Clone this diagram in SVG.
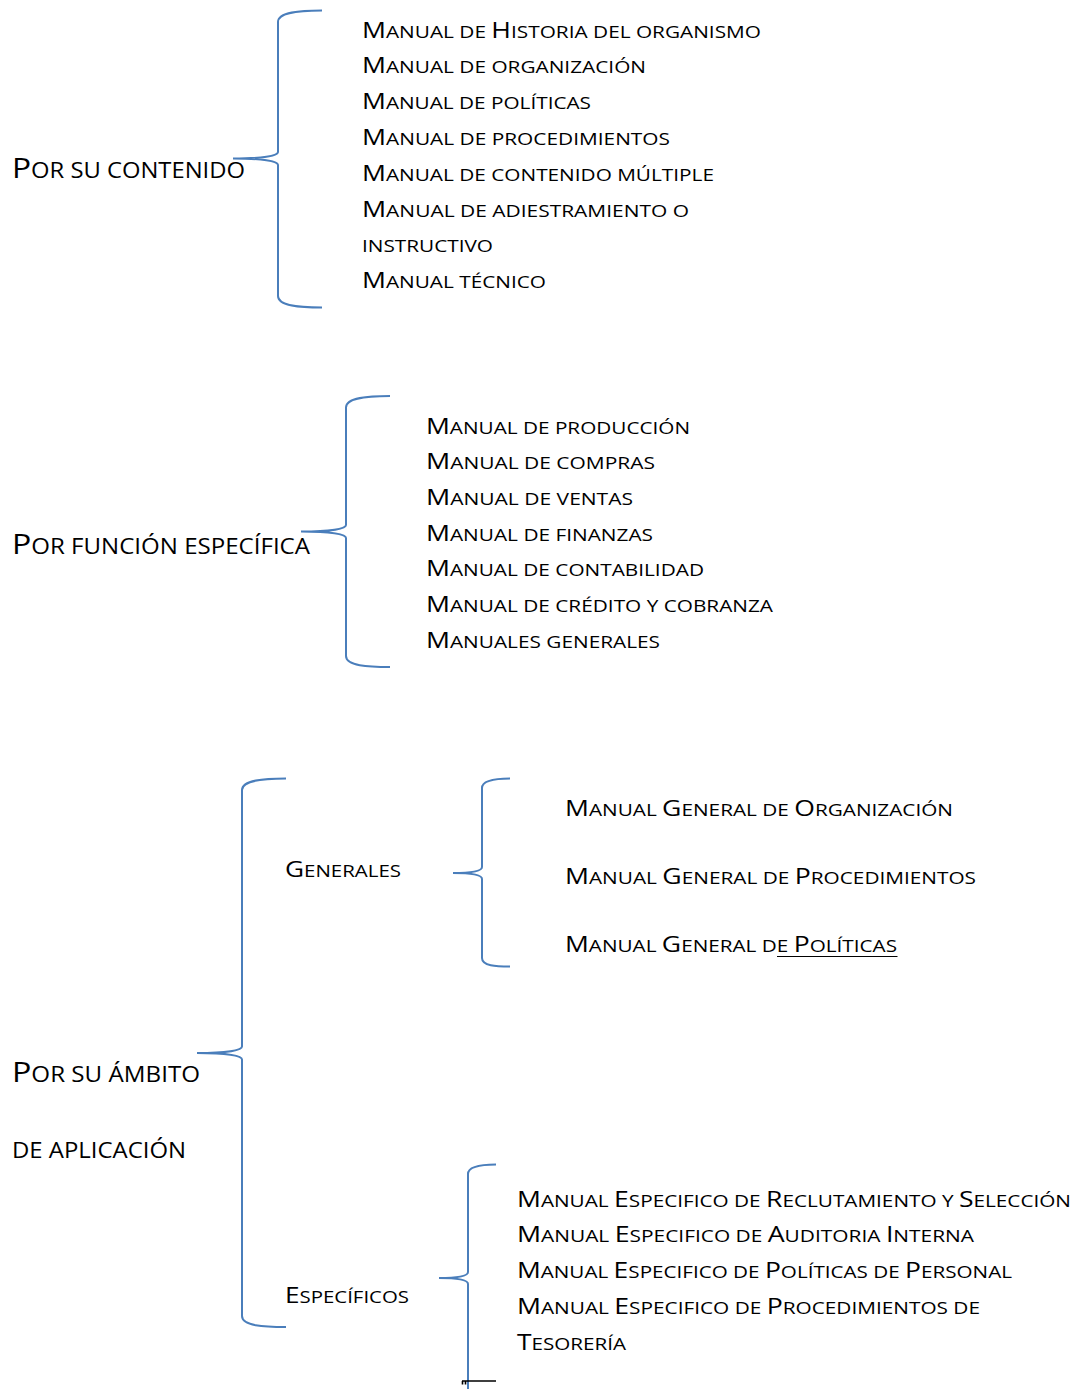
<svg xmlns="http://www.w3.org/2000/svg" width="1075" height="1389" viewBox="0 0 1075 1389">
  <style>
    text { font-family: "Open Sans", "Liberation Sans", sans-serif; fill: #000; }
    .t { font-size: 16.4px; }
    .t .k { font-size: 21px; }
    .lbl { font-size: 21px; }
    .lbl .k { font-size: 28px; }
    .brace { fill: none; stroke: #4a7ebb; stroke-width: 2; stroke-linecap: butt; }
    .mark { fill: none; stroke: #000; stroke-width: 1.6; }
    .ul { stroke: #000; stroke-width: 1.2; }
  </style>
  <rect width="1075" height="1389" fill="#fff"/>

  <!-- curly braces joining each heading to its list -->
  <g id="connectors">
    <path id="brace-contenido" class="brace" d="M322,10.5 C300,10.5 278,12 278,22 L278,152 C278,156 262,158.5 233,158.5 C262,158.5 278,161 278,165 L278,296 C278,306 300,307.5 322,307.5"/>
    <path id="brace-funcion" class="brace" d="M390,396 C368,396 346,397.5 346,407.5 L346,525 C346,529 330,531.5 301,531.5 C330,531.5 346,534 346,538 L346,656 C346,666 368,667 390,667"/>
    <path id="brace-ambito" class="brace" d="M286,778.5 C264,778.5 242,780 242,790 L242,1046.5 C242,1050.5 226,1053 197,1053 C226,1053 242,1055.5 242,1059.5 L242,1316 C242,1326 264,1327 286,1327"/>
    <path id="brace-generales" class="brace" d="M510,778.5 C496,778.5 482,780 482,788 L482,867 C482,871 472,873 453,873 C472,873 482,875 482,879 L482,958 C482,966 496,966.5 510,966.5"/>
    <path id="brace-especificos" class="brace" d="M496,1164.5 C482,1164.5 468,1166 468,1174 L468,1272 C468,1276 458,1278 439,1278 C458,1278 468,1280 468,1284 L468,1395"/>
    <path id="end-mark" class="mark" d="M462,1381 H496 M462.5,1381 V1384.5 M465.5,1381 V1384.5"/>
  </g>

  <!-- por su contenido -->
  <g id="node-contenido">
    <text class="lbl" x="12" y="177.5" textLength="233" lengthAdjust="spacingAndGlyphs"><tspan class="k">P</tspan>OR SU CONTENIDO</text>
  </g>
  <g id="list-contenido">
    <text class="t" x="362" y="37.5" textLength="399" lengthAdjust="spacingAndGlyphs"><tspan class="k">M</tspan>ANUAL DE <tspan class="k">H</tspan>ISTORIA DEL ORGANISMO</text>
    <text class="t" x="362" y="73.3" textLength="284" lengthAdjust="spacingAndGlyphs"><tspan class="k">M</tspan>ANUAL DE ORGANIZACIÓN</text>
    <text class="t" x="362" y="109.1" textLength="229" lengthAdjust="spacingAndGlyphs"><tspan class="k">M</tspan>ANUAL DE POLÍTICAS</text>
    <text class="t" x="362" y="144.9" textLength="308" lengthAdjust="spacingAndGlyphs"><tspan class="k">M</tspan>ANUAL DE PROCEDIMIENTOS</text>
    <text class="t" x="362" y="180.7" textLength="352" lengthAdjust="spacingAndGlyphs"><tspan class="k">M</tspan>ANUAL DE CONTENIDO MÚLTIPLE</text>
    <text class="t" x="362" y="216.5" textLength="327" lengthAdjust="spacingAndGlyphs"><tspan class="k">M</tspan>ANUAL DE ADIESTRAMIENTO O</text>
    <text class="t" x="362" y="252.3" textLength="131" lengthAdjust="spacingAndGlyphs">INSTRUCTIVO</text>
    <text class="t" x="362" y="288.1" textLength="184" lengthAdjust="spacingAndGlyphs"><tspan class="k">M</tspan>ANUAL TÉCNICO</text>
  </g>

  <!-- por función específica -->
  <g id="node-funcion">
    <text class="lbl" x="12" y="554" textLength="298" lengthAdjust="spacingAndGlyphs"><tspan class="k">P</tspan>OR FUNCIÓN ESPECÍFICA</text>
  </g>
  <g id="list-funcion">
    <text class="t" x="426" y="433.5" textLength="264" lengthAdjust="spacingAndGlyphs"><tspan class="k">M</tspan>ANUAL DE PRODUCCIÓN</text>
    <text class="t" x="426" y="469.2" textLength="229" lengthAdjust="spacingAndGlyphs"><tspan class="k">M</tspan>ANUAL DE COMPRAS</text>
    <text class="t" x="426" y="504.8" textLength="207" lengthAdjust="spacingAndGlyphs"><tspan class="k">M</tspan>ANUAL DE VENTAS</text>
    <text class="t" x="426" y="540.5" textLength="227" lengthAdjust="spacingAndGlyphs"><tspan class="k">M</tspan>ANUAL DE FINANZAS</text>
    <text class="t" x="426" y="576.2" textLength="278" lengthAdjust="spacingAndGlyphs"><tspan class="k">M</tspan>ANUAL DE CONTABILIDAD</text>
    <text class="t" x="426" y="611.8" textLength="347" lengthAdjust="spacingAndGlyphs"><tspan class="k">M</tspan>ANUAL DE CRÉDITO Y COBRANZA</text>
    <text class="t" x="426" y="647.5" textLength="234" lengthAdjust="spacingAndGlyphs"><tspan class="k">M</tspan>ANUALES GENERALES</text>
  </g>

  <!-- por su ámbito de aplicación -->
  <g id="node-ambito">
    <text class="lbl" x="12" y="1082" textLength="188" lengthAdjust="spacingAndGlyphs"><tspan class="k">P</tspan>OR SU ÁMBITO</text>
    <text class="lbl" x="12" y="1158" textLength="174" lengthAdjust="spacingAndGlyphs">DE APLICACIÓN</text>
  </g>
  <g id="node-generales">
    <text class="t" x="285" y="876.5" textLength="116" lengthAdjust="spacingAndGlyphs"><tspan class="k">G</tspan>ENERALES</text>
  </g>
  <g id="list-generales">
    <text class="t" x="565" y="816" textLength="388" lengthAdjust="spacingAndGlyphs"><tspan class="k">M</tspan>ANUAL <tspan class="k">G</tspan>ENERAL DE <tspan class="k">O</tspan>RGANIZACIÓN</text>
    <text class="t" x="565" y="884" textLength="411" lengthAdjust="spacingAndGlyphs"><tspan class="k">M</tspan>ANUAL <tspan class="k">G</tspan>ENERAL DE <tspan class="k">P</tspan>ROCEDIMIENTOS</text>
    <text class="t" x="565" y="952" textLength="332" lengthAdjust="spacingAndGlyphs"><tspan class="k">M</tspan>ANUAL <tspan class="k">G</tspan>ENERAL DE <tspan class="k">P</tspan>OLÍTICAS</text>
    <line class="ul" x1="777" y1="956.5" x2="897.5" y2="956.5"/>
  </g>
  <g id="node-especificos">
    <text class="t" x="285" y="1303" textLength="124" lengthAdjust="spacingAndGlyphs"><tspan class="k">E</tspan>SPECÍFICOS</text>
  </g>
  <g id="list-especificos">
    <text class="t" x="517" y="1206.5" textLength="554" lengthAdjust="spacingAndGlyphs"><tspan class="k">M</tspan>ANUAL <tspan class="k">E</tspan>SPECIFICO DE <tspan class="k">R</tspan>ECLUTAMIENTO Y <tspan class="k">S</tspan>ELECCIÓN</text>
    <text class="t" x="517" y="1242.3" textLength="457" lengthAdjust="spacingAndGlyphs"><tspan class="k">M</tspan>ANUAL <tspan class="k">E</tspan>SPECIFICO DE <tspan class="k">A</tspan>UDITORIA <tspan class="k">I</tspan>NTERNA</text>
    <text class="t" x="517" y="1278.1" textLength="495" lengthAdjust="spacingAndGlyphs"><tspan class="k">M</tspan>ANUAL <tspan class="k">E</tspan>SPECIFICO DE <tspan class="k">P</tspan>OLÍTICAS DE <tspan class="k">P</tspan>ERSONAL</text>
    <text class="t" x="517" y="1313.9" textLength="463" lengthAdjust="spacingAndGlyphs"><tspan class="k">M</tspan>ANUAL <tspan class="k">E</tspan>SPECIFICO DE <tspan class="k">P</tspan>ROCEDIMIENTOS DE</text>
    <text class="t" x="517" y="1349.7" textLength="109" lengthAdjust="spacingAndGlyphs"><tspan class="k">T</tspan>ESORERÍA</text>
  </g>
</svg>
